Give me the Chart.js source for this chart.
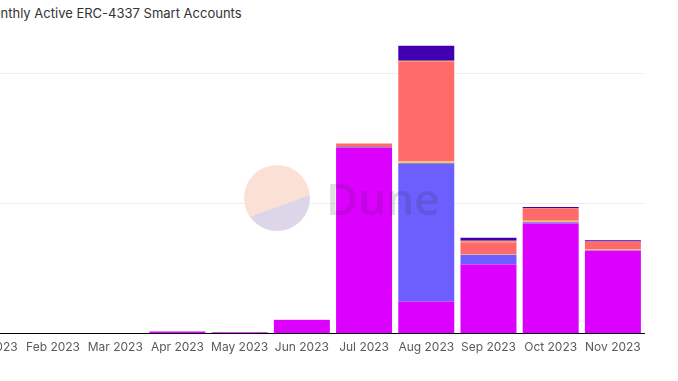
<!DOCTYPE html>
<html>
<head>
<meta charset="utf-8">
<script src="https://cdn.jsdelivr.net/npm/chart.js@4"></script>
<style>
  html, body { margin:0; padding:0; background:#fff; overflow:hidden; }
  body { width:678px; height:381px; position:relative; }
  #wrap { position:absolute; left:-43px; top:0; width:721px; height:381px; }
  #title { position:absolute; left:-19px; top:5px; font-family:Inter, "Noto Sans", sans-serif; font-size:13px; color:#333; white-space:nowrap; }
  #logo { position:absolute; left:244px; top:165px; width:66px; height:66px; border-radius:50%;
          background:linear-gradient(160deg, #fbe0d5 0%, #fbe0d5 60%, #dcd6e8 60%, #dcd6e8 100%); z-index:2; }
  #dune { position:absolute; left:326px; top:170px; font-family:"Open Sans", sans-serif; font-weight:600; font-size:44px; line-height:56px;
          color:rgba(40,40,40,0.15); z-index:2; pointer-events:none; }
</style>
</head>
<body>
<div id="title">Monthly Active ERC-4337 Smart Accounts</div>
<div id="wrap"><canvas id="c"></canvas></div>
<div id="logo"></div>
<div id="dune">Dune</div>
<script>
const months = ['Jan 2023','Feb 2023','Mar 2023','Apr 2023','May 2023','Jun 2023','Jul 2023','Aug 2023','Sep 2023','Oct 2023','Nov 2023'];
const series1 = [0, 0, 0, 8000, 5000, 52000, 712000, 123000, 265000, 423000, 319000];
const series2 = [0, 0, 0, 0, 0, 0, 3000, 531000, 38000, 4000, 0];
const series3 = [0, 0, 0, 0, 0, 0, 0, 8000, 2000, 6000, 4000];
const series4 = [0, 0, 0, 0, 0, 1000, 15000, 381000, 46000, 48000, 31000];
const series5 = [0, 0, 0, 0, 0, 0, 0, 4000, 5000, 0, 0];
const series6 = [0, 0, 0, 0, 0, 0, 0, 58000, 12000, 5000, 4000];
const yGridValues = [0, 500000, 1000000];

const mk = (label, data, color) => ({ label, data, backgroundColor: color, borderWidth: 0, categoryPercentage: 0.9, barPercentage: 1.0 });

new Chart(document.getElementById('c'), {
  type: 'bar',
  data: {
    labels: months,
    datasets: [
      mk('Series 1', series1, '#dc00ff'),
      mk('Series 2', series2, '#6c5ffe'),
      mk('Series 3', series3, '#f2c45a'),
      mk('Series 4', series4, '#ff6b6b'),
      mk('Series 5', series5, '#f0a060'),
      mk('Series 6', series6, '#4200b0')
    ]
  },
  options: {
    responsive: true,
    maintainAspectRatio: false,
    animation: false,
    layout: { padding: { top: 40, right: 34, bottom: 19, left: 0 } },
    plugins: { legend: { display: false }, tooltip: { enabled: false } },
    scales: {
      x: {
        stacked: true,
        grid: { display: false, drawTicks: false },
        border: { display: true, color: '#000', width: 1 },
        ticks: { color: '#5a5a5a', font: { family: 'Inter, "Noto Sans", sans-serif', size: 12 }, padding: 7, maxRotation: 0, autoSkip: false }
      },
      y: {
        stacked: true,
        min: 0,
        max: 1127000,
        afterBuildTicks: (s) => { s.ticks = yGridValues.map(v => ({ value: v })); },
        grid: { color: (ctx) => ctx.tick && ctx.tick.value === 0 ? 'rgba(0,0,0,0)' : '#efefef', drawTicks: false },
        border: { display: false },
        ticks: { display: false }
      }
    }
  }
});
</script>
</body>
</html>
